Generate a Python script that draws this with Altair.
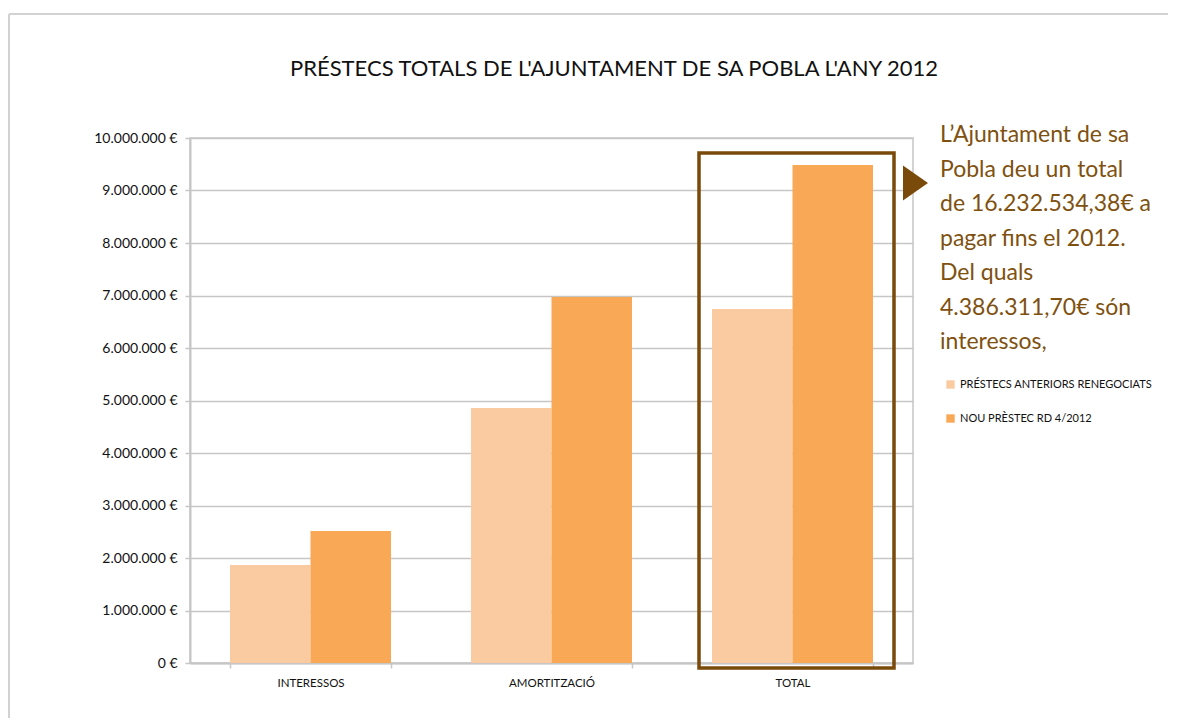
import altair as alt
import pandas as pd

# ---- data -------------------------------------------------------------
categories = ["Interessos", "Amortització", "TOTAL"]
series = ["Préstecs anteriors renegociats", "Nou prèstec RD 4/2012"]
anteriors = [1867000, 4857000, 6743000]
nou = [2514000, 6970000, 9486000]
y_ticks = [0, 1000000, 2000000, 3000000, 4000000, 5000000,
           6000000, 7000000, 8000000, 9000000, 10000000]

title_text = "PRÉSTECS TOTALS DE L'AJUNTAMENT DE SA POBLA L'ANY 2012"
note_lines = [
    "L’Ajuntament de sa",
    "Pobla deu un total",
    "de 16.232.534,38€ a",
    "pagar fins el 2012.",
    "Del quals",
    "4.386.311,70€ són",
    "interessos,",
]

rows = []
for c, a, n in zip(categories, anteriors, nou):
    rows.append({"categoria": c, "serie": series[0], "valor": a})
    rows.append({"categoria": c, "serie": series[1], "valor": n})
df = pd.DataFrame(rows)
one = pd.DataFrame({"k": [0]})

FONT = "Lato"
GRID = "#C6C6C6"
BROWN = "#7A4A0A"
TEXT_BROWN = "#7F5110"

W, H = 723, 525
PAD = {"left": 182, "top": 130, "right": 255, "bottom": 55}

frame_top = alt.Chart(one).mark_rule(color="#D2D2D2", strokeWidth=2).encode(
    x=alt.value(-181), x2=alt.value(W + PAD["right"]), y=alt.value(-124)
)
frame_left = alt.Chart(one).mark_rule(color="#D2D2D2", strokeWidth=2).encode(
    x=alt.value(-181), y=alt.value(-124), y2=alt.value(H + PAD["bottom"])
)

bars = alt.Chart(df).mark_bar().encode(
    x=alt.X(
        "categoria:N",
        sort=categories,
        scale=alt.Scale(paddingInner=0.332, paddingOuter=0.166),
        axis=alt.Axis(
            title=None, labelAngle=0, labelExpr="upper(datum.label)",
            labelFont=FONT, labelFontSize=11.5, labelColor="#111",
            labelPadding=9, tickBand="extent", tickSize=5,
            tickColor=GRID, tickWidth=1.5, domainColor=GRID, domainWidth=2,
        ),
    ),
    xOffset=alt.XOffset("serie:N", sort=series,
                        scale=alt.Scale(paddingInner=0, paddingOuter=0)),
    y=alt.Y(
        "valor:Q",
        scale=alt.Scale(domain=[0, 10000000], nice=False),
        axis=alt.Axis(
            title=None, values=y_ticks,
            labelExpr="datum.value == 0 ? '0 €' : format(datum.value / 1000000, 'd') + '.000.000 €'",
            labelFont=FONT, labelFontSize=14, labelColor="#111",
            labelPadding=8, tickSize=5, tickColor=GRID, tickWidth=1.5,
            domainColor=GRID, domainWidth=2, grid=True, gridColor=GRID,
            gridWidth=1.5,
        ),
    ),
    color=alt.Color(
        "serie:N",
        sort=series,
        scale=alt.Scale(domain=series, range=["#FACBA0", "#F9A856"]),
        legend=alt.Legend(
            orient="none", legendX=755, legendY=241, title=None,
            symbolType="square", symbolSize=70, symbolStrokeWidth=0,
            labelExpr="upper(datum.label)", labelFont=FONT,
            labelFontSize=11, labelColor="#111", rowPadding=22,
            labelOffset=4, labelLimit=300,
        ),
    ),
)

box = alt.Chart(one).mark_rect(fillOpacity=0, stroke=BROWN, strokeWidth=3.5).encode(
    x=alt.value(509), x2=alt.value(704), y=alt.value(15), y2=alt.value(530)
)

triangle = alt.Chart(one).mark_point(
    shape="M-1,-1.4L1,0L-1,1.4Z", filled=True, size=625, color=BROWN, opacity=1
).encode(x=alt.value(725.5), y=alt.value(45))

note = alt.Chart(one).mark_text(
    align="left", baseline="alphabetic", font=FONT, fontSize=23,
    lineHeight=34.5, color=TEXT_BROWN,
).encode(x=alt.value(750), y=alt.value(4), text=alt.value(note_lines))

title = alt.Chart(one).mark_text(
    align="center", baseline="alphabetic", font=FONT, fontSize=22, color="#111"
).encode(x=alt.value(424), y=alt.value(-62), text=alt.value(title_text))

chart = alt.layer(frame_top, frame_left, bars, box, triangle, note, title).properties(
    width=W, height=H,
    autosize=alt.AutoSizeParams(type="none"),
    padding=PAD,
).configure_view(stroke=GRID, strokeWidth=1.5)

chart.save("out.html", embed_options={"renderer": "svg", "actions": False})
